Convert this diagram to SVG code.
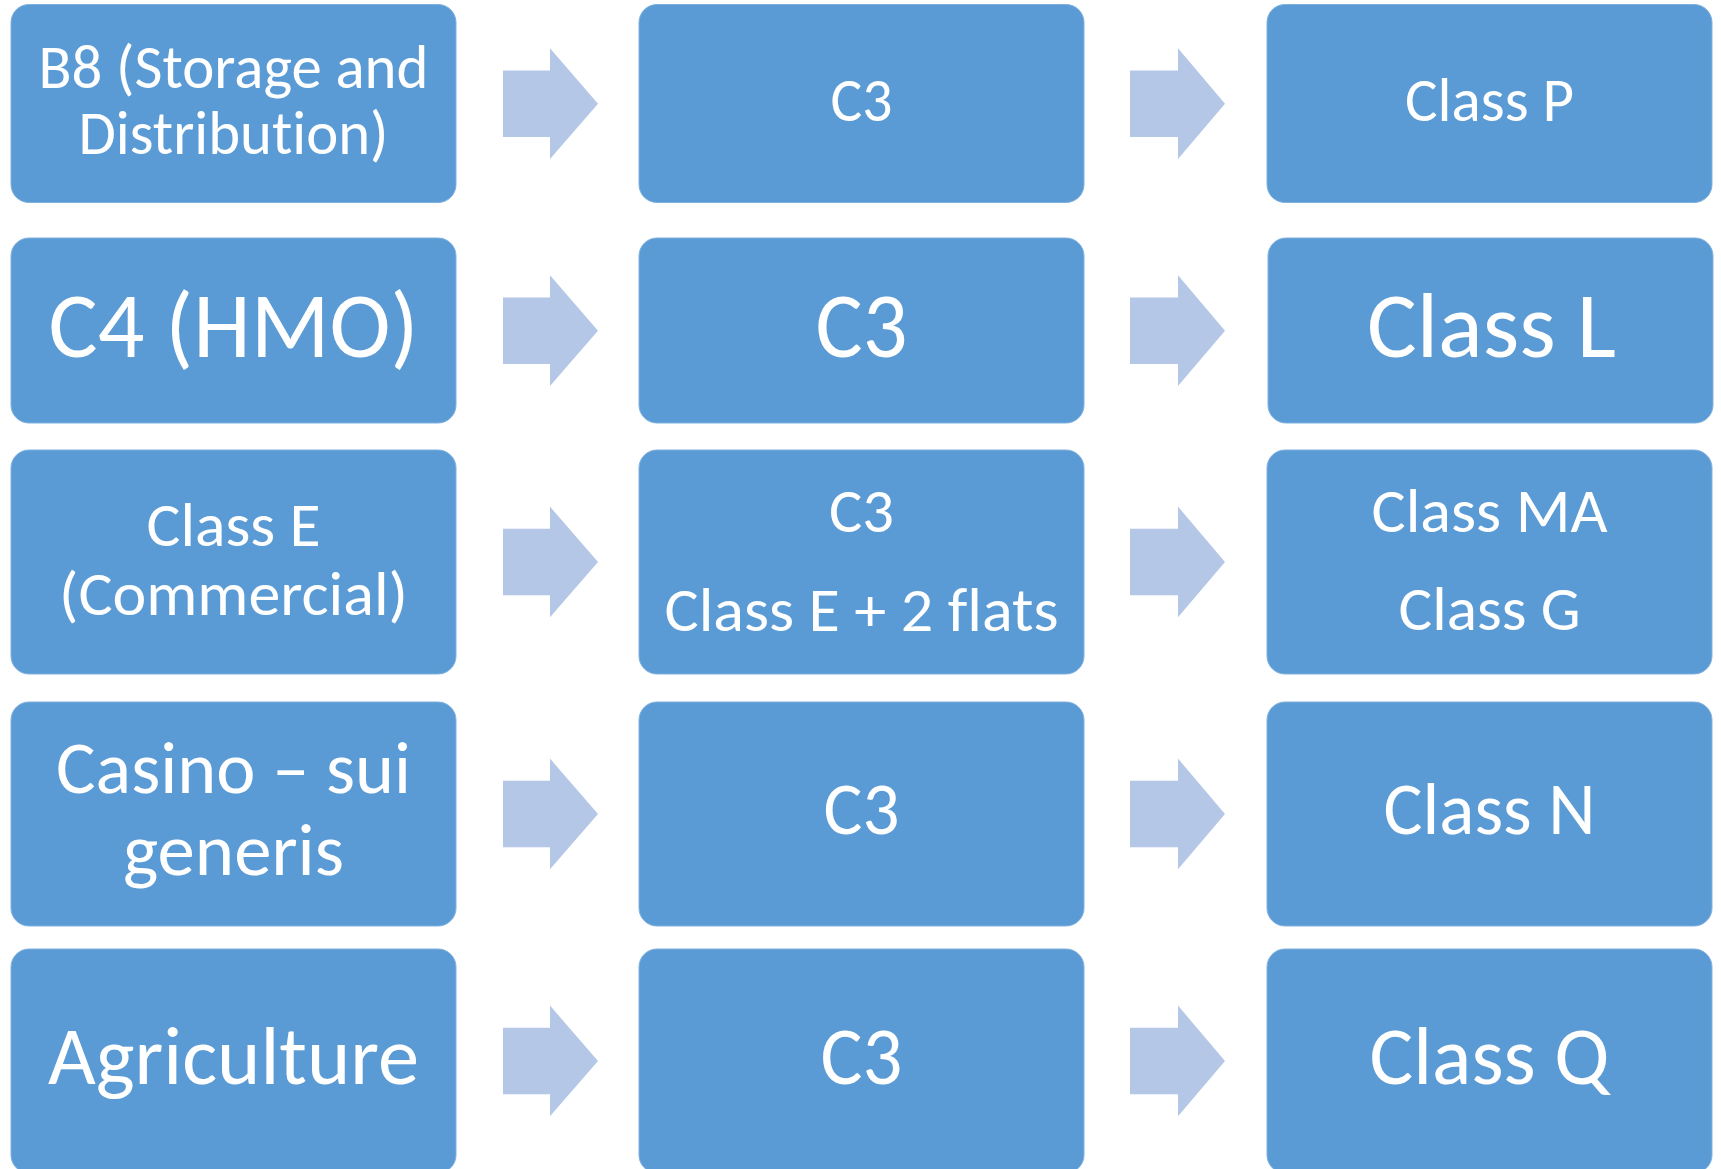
<svg xmlns="http://www.w3.org/2000/svg" width="1721" height="1169" viewBox="0 0 1721 1169">
<style>
.box{fill:#5B9BD5;stroke:#7FB1DE;stroke-width:1}
.arr{fill:#B4C7E7}
text{font-family:Carlito,"Open Sans","Noto Sans",sans-serif;fill:#FFFFFF;text-anchor:middle;font-variant-ligatures:none}
.s1{font-size:61px}
.s2{font-size:93px}
.s3{font-size:73px}
.s4{font-size:82px}
</style>
<rect width="1721" height="1169" fill="#FFFFFF"/>
<g id="connectors">
<path class="arr" d="M503,70.5 H550 V48.3 L598,103.7 L550,159 V136.9 H503 Z"/>
<path class="arr" d="M1130,70.5 H1178 V48.3 L1225,103.7 L1178,159 V136.9 H1130 Z"/>
<path class="arr" d="M503,297.5 H550 V275.3 L598,330.7 L550,386 V363.9 H503 Z"/>
<path class="arr" d="M1130,297.5 H1178 V275.3 L1225,330.7 L1178,386 V363.9 H1130 Z"/>
<path class="arr" d="M503,528.8 H550 V506.6 L598,562 L550,617.3 V595.2 H503 Z"/>
<path class="arr" d="M1130,528.8 H1178 V506.6 L1225,562 L1178,617.3 V595.2 H1130 Z"/>
<path class="arr" d="M503,780.8 H550 V758.6 L598,814 L550,869.3 V847.2 H503 Z"/>
<path class="arr" d="M1130,780.8 H1178 V758.6 L1225,814 L1178,869.3 V847.2 H1130 Z"/>
<path class="arr" d="M503,1027.8 H550 V1005.6 L598,1061 L550,1116.3 V1094.2 H503 Z"/>
<path class="arr" d="M1130,1027.8 H1178 V1005.6 L1225,1061 L1178,1116.3 V1094.2 H1130 Z"/>
</g>
<g id="n-b8">
<rect class="box" x="11" y="4.5" width="445" height="198" rx="18"/>
<text class="s1" x="233.5" y="87.5" textLength="390" lengthAdjust="spacingAndGlyphs">B8 (Storage and</text>
<text class="s1" x="233.5" y="153.5" textLength="310" lengthAdjust="spacingAndGlyphs">Distribution)</text>
</g>
<g id="n-c3-1">
<rect class="box" x="639" y="4.5" width="445" height="198" rx="18"/>
<text class="s1" x="861.5" y="120.7" textLength="62" lengthAdjust="spacingAndGlyphs">C3</text>
</g>
<g id="n-classp">
<rect class="box" x="1267" y="4.5" width="445" height="198" rx="18"/>
<text class="s1" x="1489.5" y="120.7" textLength="169" lengthAdjust="spacingAndGlyphs">Class P</text>
</g>
<g id="n-c4">
<rect class="box" x="11" y="238" width="445" height="185" rx="18"/>
<text class="s2" x="233.5" y="356.7" textLength="370" lengthAdjust="spacingAndGlyphs">C4 (HMO)</text>
</g>
<g id="n-c3-2">
<rect class="box" x="639" y="238" width="445" height="185" rx="18"/>
<text class="s2" x="861.5" y="357" textLength="92" lengthAdjust="spacingAndGlyphs">C3</text>
</g>
<g id="n-classl">
<rect class="box" x="1268" y="238" width="445" height="185" rx="18"/>
<text class="s2" x="1491.5" y="356.7" textLength="249" lengthAdjust="spacingAndGlyphs">Class L</text>
</g>
<g id="n-classe">
<rect class="box" x="11" y="450" width="445" height="224" rx="18"/>
<text class="s1" x="233.5" y="546" textLength="174" lengthAdjust="spacingAndGlyphs">Class E</text>
<text class="s1" x="233.5" y="615" textLength="349" lengthAdjust="spacingAndGlyphs">(Commercial)</text>
</g>
<g id="n-c3-3">
<rect class="box" x="639" y="450" width="445" height="224" rx="18"/>
<text class="s1" x="861.5" y="531.7" textLength="65" lengthAdjust="spacingAndGlyphs">C3</text>
<text class="s1" x="861.5" y="630.7" textLength="394" lengthAdjust="spacingAndGlyphs">Class E + 2 flats</text>
</g>
<g id="n-classma">
<rect class="box" x="1267" y="450" width="445" height="224" rx="18"/>
<text class="s1" x="1489.5" y="531.7" textLength="236" lengthAdjust="spacingAndGlyphs">Class MA</text>
<text class="s1" x="1489.5" y="630" textLength="182" lengthAdjust="spacingAndGlyphs">Class G</text>
</g>
<g id="n-casino">
<rect class="box" x="11" y="702" width="445" height="224" rx="18"/>
<text class="s3" x="233.5" y="792.7" textLength="355" lengthAdjust="spacingAndGlyphs">Casino – sui</text>
<text class="s3" x="233.5" y="875" textLength="221" lengthAdjust="spacingAndGlyphs">generis</text>
</g>
<g id="n-c3-4">
<rect class="box" x="639" y="702" width="445" height="224" rx="18"/>
<text class="s3" x="861.5" y="834.3" textLength="76" lengthAdjust="spacingAndGlyphs">C3</text>
</g>
<g id="n-classn">
<rect class="box" x="1267" y="702" width="445" height="224" rx="18"/>
<text class="s3" x="1489.5" y="834.3" textLength="212" lengthAdjust="spacingAndGlyphs">Class N</text>
</g>
<g id="n-agri">
<rect class="box" x="11" y="949" width="445" height="224" rx="18"/>
<text class="s4" x="233.5" y="1084" textLength="371" lengthAdjust="spacingAndGlyphs">Agriculture</text>
</g>
<g id="n-c3-5">
<rect class="box" x="639" y="949" width="445" height="224" rx="18"/>
<text class="s4" x="861.5" y="1084.3" textLength="82" lengthAdjust="spacingAndGlyphs">C3</text>
</g>
<g id="n-classq">
<rect class="box" x="1267" y="949" width="445" height="224" rx="18"/>
<text class="s4" x="1489.5" y="1084" textLength="240" lengthAdjust="spacingAndGlyphs">Class Q</text>
</g>
</svg>
